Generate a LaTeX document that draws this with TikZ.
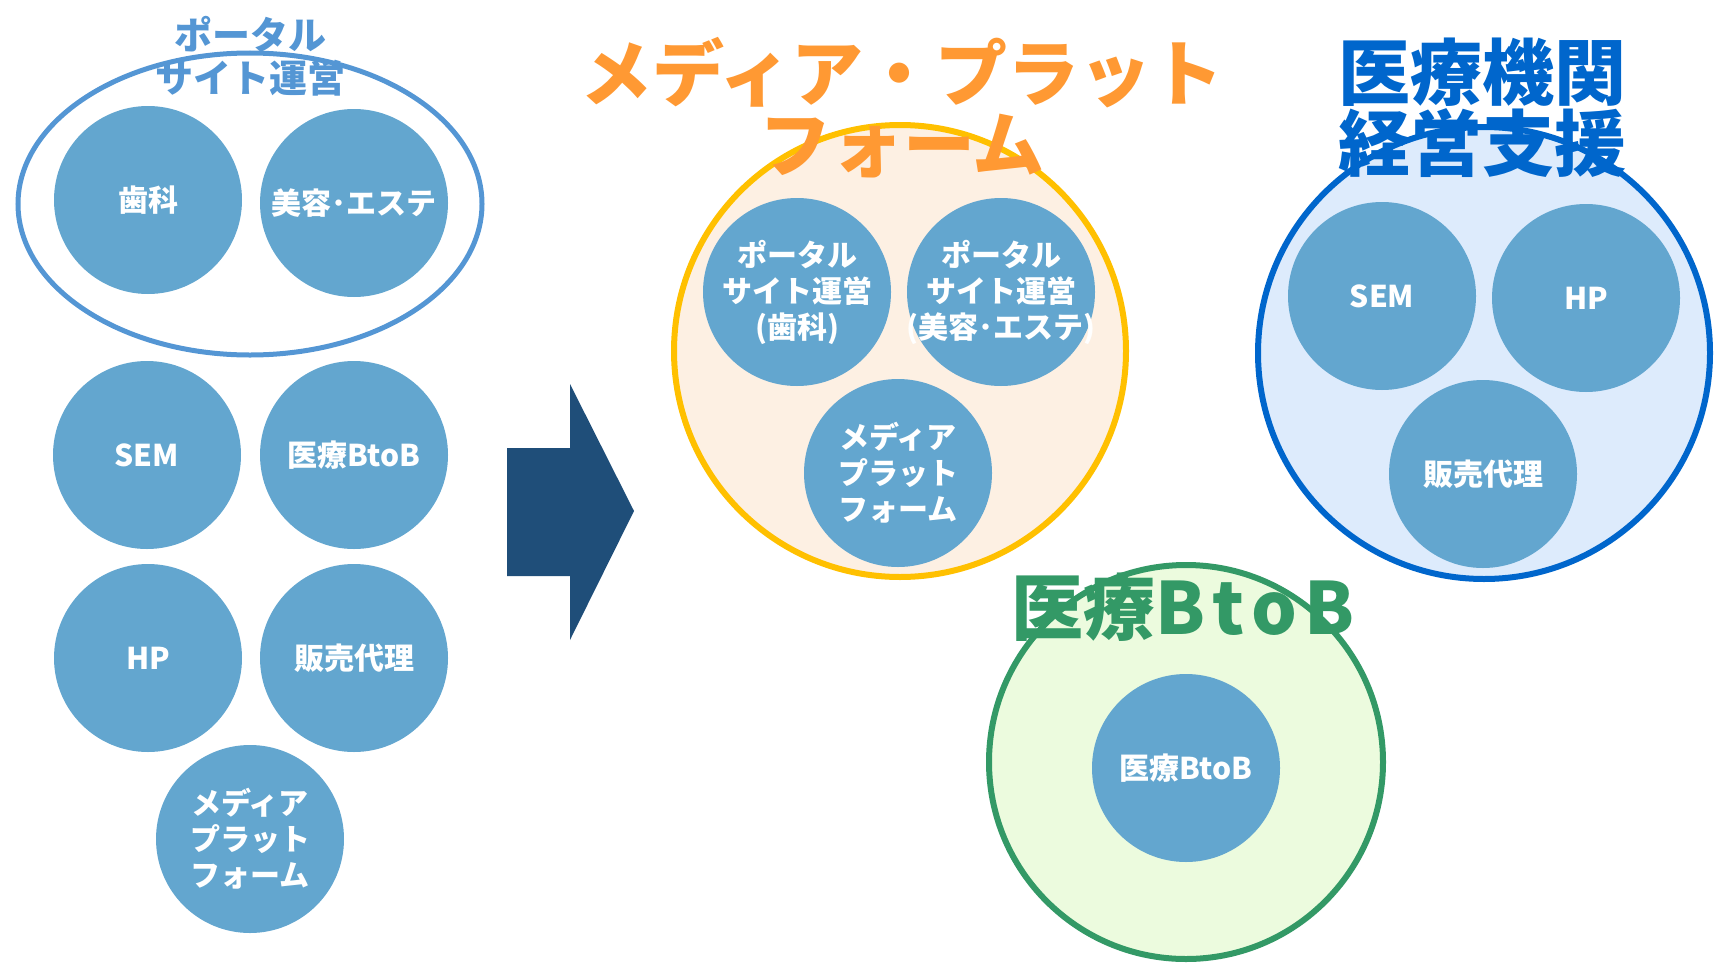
\documentclass[tikz,border=0pt]{standalone}
\usepackage{fontspec}
\setmainfont{Noto Sans CJK JP}
\usetikzlibrary{shapes.geometric}
\definecolor{dotblue}{RGB}{99,166,207}
\definecolor{portalblue}{RGB}{84,150,212}
\definecolor{mediaorange}{RGB}{255,153,51}
\definecolor{ringgold}{RGB}{255,192,0}
\definecolor{mediafill}{RGB}{253,240,227}
\definecolor{mgmtblue}{RGB}{0,102,204}
\definecolor{mgmtfill}{RGB}{221,235,252}
\definecolor{btobgreen}{RGB}{51,153,102}
\definecolor{btobfill}{RGB}{236,251,222}
\definecolor{arrowblue}{RGB}{31,78,121}
\begin{document}
\begin{tikzpicture}[x=1pt,y=-1pt,
    dot/.style={circle,fill=dotblue,minimum size=188pt,inner sep=0pt,
      text=white,align=center,font=\fontsize{30}{36}\selectfont\bfseries},
    ring/.style={circle,line width=6pt,minimum size=#1,inner sep=0pt},
    bigtitle/.style={align=center,font=\fontsize{72}{71}\selectfont\bfseries}]
  \useasboundingbox (0,0) rectangle (1720,966);
  % left side: current business
  \node[ellipse,draw=portalblue,line width=5pt,minimum width=464pt,minimum height=302pt] (portal) at (250,204) {};
  \node[dot] (shika) at (148,200) {歯科};
  \node[dot] (biyou) at (354,203) {美容･エステ};
  \node[dot] (sem) at (147,455) {SEM};
  \node[dot] (btob) at (354,455) {医療BtoB};
  \node[dot] (hp) at (148,658) {HP};
  \node[dot] (hanbai) at (354,658) {販売代理};
  \node[dot] (media) at (250,839) {メディア\\プラット\\フォーム};
  \node[align=center,text=portalblue,font=\fontsize{38}{43}\selectfont\bfseries] (portaltitle) at (250,56) {ポータル\\サイト運営};
  % arrow
  \fill[arrowblue] (507,448) -- (570,448) -- (570,384) -- (634,511) -- (570,640) -- (570,576) -- (507,576) -- cycle;
  % media platform
  \node[ring=452pt,draw=ringgold,fill=mediafill] (mediaring) at (900,351) {};
  \node[dot] (mshika) at (797,292) {ポータル\\サイト運営\\(歯科)};
  \node[dot] (mbiyou) at (1001,292) {ポータル\\サイト運営\\\makebox[0pt]{(美容･エステ)}};
  \node[dot] (mmedia) at (898,473) {メディア\\プラット\\フォーム};
  \node[bigtitle,text=mediaorange] (mediatitle) at (902,108) {メディア・プラット\\フォーム};
  % management support
  \node[ring=452pt,draw=mgmtblue,fill=mgmtfill] (mgmtring) at (1484,353) {};
  \node[dot] (gsem) at (1382,296) {SEM};
  \node[dot] (ghp) at (1586,298) {HP};
  \node[dot] (ghanbai) at (1483,474) {販売代理};
  \node[bigtitle,text=mgmtblue] (mgmttitle) at (1482,108) {医療機関\\経営支援};
  % medical BtoB
  \node[ring=394pt,draw=btobgreen,fill=btobfill] (btobring) at (1186,762) {};
  \node[dot] (bbtob) at (1186,768) {医療BtoB};
  \node[bigtitle,text=btobgreen] (btobtitle) at (1183,607) {医療B\hspace{7pt}t\hspace{7pt}o\hspace{7pt}B};
\end{tikzpicture}
\end{document}
